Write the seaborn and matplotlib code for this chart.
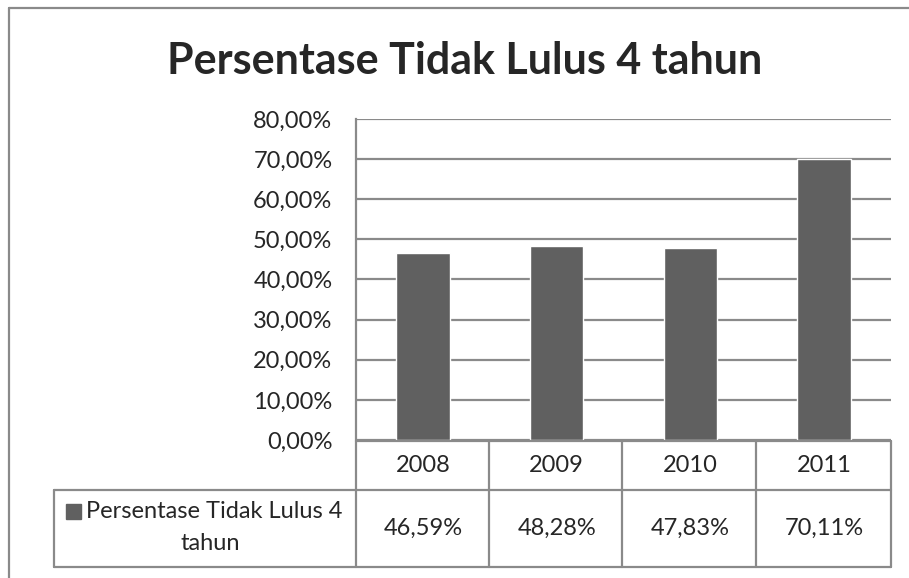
import matplotlib
matplotlib.use('Agg')
import matplotlib.pyplot as plt
import seaborn as sns
from matplotlib.lines import Line2D
from matplotlib.patches import Rectangle

# data
years = ['2008', '2009', '2010', '2011']
values = [46.59, 48.28, 47.83, 70.11]
value_labels = ['46,59%', '48,28%', '47,83%', '70,11%']
series_line1 = 'Persentase Tidak Lulus 4'
series_line2 = 'tahun'
title = 'Persentase Tidak Lulus 4 tahun'
yticks = [0, 10, 20, 30, 40, 50, 60, 70, 80]

sns.set_style('white')
plt.rcParams['font.family'] = ['Lato', 'DejaVu Sans']

W, H = 909, 578
fig = plt.figure(figsize=(W / 100, H / 100), dpi=100)
fig.patch.set_facecolor('white')

def fx(x):
    return x / W

def fy(y):
    return 1 - y / H

line_col = '#8a8a8a'
bar_col = '#606060'
fs = 17

# plot area
left, right, top, bottom = 356, 891, 119, 440
ax = fig.add_axes([fx(left), fy(bottom), fx(right) - fx(left), fy(top) - fy(bottom)])
sns.barplot(x=years, y=values, color=bar_col, saturation=1, width=0.4, ax=ax)
ax.set_xlim(-0.5, 3.5)
ax.set_ylim(0, 80)
ax.set_yticks(yticks)
ax.set_yticklabels([f'{t:.2f}%'.replace('.', ',') for t in yticks], fontsize=fs)
ax.tick_params(axis='y', length=0, pad=17)
ax.set_xticks([])
ax.set_xlabel('')
ax.set_ylabel('')
ax.yaxis.grid(True, color=line_col, linewidth=1.6)
ax.set_axisbelow(True)
for s in ['top', 'right', 'bottom']:
    ax.spines[s].set_visible(False)
ax.spines['left'].set_color(line_col)
ax.spines['left'].set_linewidth(1.6)

def hline(y, x0, x1):
    fig.add_artist(Line2D([fx(x0), fx(x1)], [fy(y), fy(y)], color=line_col, lw=1.6))

def vline(x, y0, y1):
    fig.add_artist(Line2D([fx(x), fx(x)], [fy(y0), fy(y1)], color=line_col, lw=1.6))

# data table grid
row0, row1, row2 = 441, 490, 567
cols = [356, 489, 622, 756, 891]
hline(row0, 356, 891)
hline(row1, 54, 891)
hline(row2, 54, 891)
for c in cols:
    vline(c, row0, row2)
vline(54, row1, row2)

# table text
tr = ax.get_xaxis_transform()
for i, (yr, lab) in enumerate(zip(years, value_labels)):
    ax.text(i, (bottom - (row0 + row1) / 2) / (bottom - top), yr, transform=tr,
            ha='center', va='center', fontsize=fs, clip_on=False)
    ax.text(i, (bottom - (row1 + row2) / 2) / (bottom - top), lab, transform=tr,
            ha='center', va='center', fontsize=fs, clip_on=False)

# legend key in table
fig.add_artist(Rectangle((fx(66), fy(519)), fx(15), 15 / H, color=bar_col))
fig.text(fx(86), fy(512), series_line1, ha='left', va='center', fontsize=fs)
fig.text(fx(210), fy(543), series_line2, ha='center', va='center', fontsize=fs)

# title
fig.text(fx(465), fy(61), title, ha='center', va='center', fontsize=31, fontweight='bold')

# chart border
fig.add_artist(Line2D([fx(9), fx(9)], [fy(8), 0], color=line_col, lw=1.6))
fig.add_artist(Line2D([fx(9), 1], [fy(8), fy(8)], color=line_col, lw=1.6))

fig.savefig('out.png', dpi=100)
